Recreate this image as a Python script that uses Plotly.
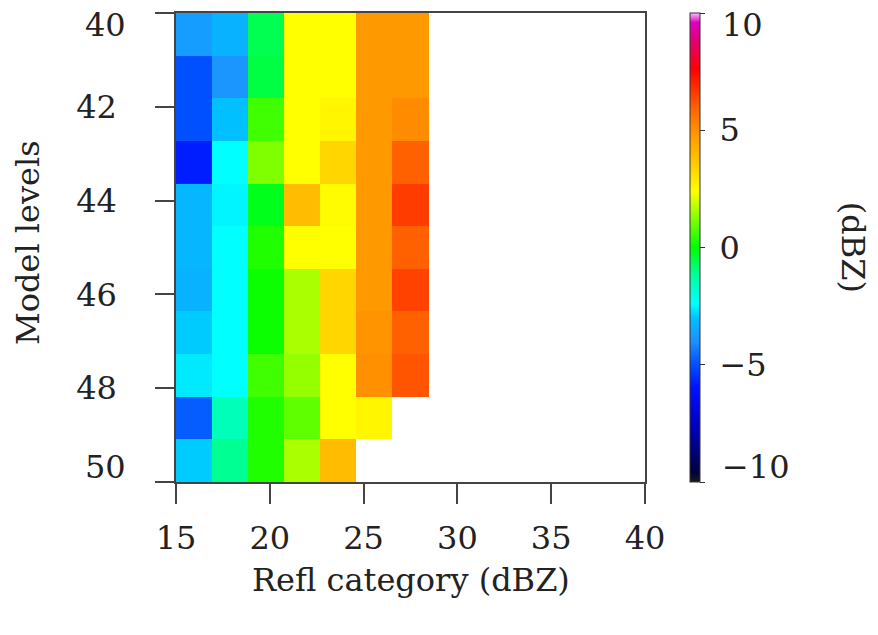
import numpy as np
import plotly.graph_objects as go

# Reflectivity categories (dBZ) and model levels spanned by the grid
refl_range = [15, 40]
level_range = [40, 50]
n_refl_bins = 13
n_levels = 11

# Mean reflectivity difference (dBZ) per model level (rows, top = level 40)
# and reflectivity category (columns, lowest category first)
row_40 = [-3.7, -3.3, -0.6, 2.4, 2.4, 4.8, 4.8]
row_41 = [-5.0, -3.9, -0.5, 2.4, 2.4, 4.8, 4.8]
row_42 = [-5.0, -3.0, 0.6, 2.4, 2.6, 4.8, 5.1]
row_43 = [-5.8, -2.4, 1.2, 2.4, 3.3, 4.8, 6.0]
row_44 = [-3.2, -2.5, -0.2, 3.9, 2.5, 4.8, 6.6]
row_45 = [-3.2, -2.4, 0.3, 2.4, 2.4, 4.8, 6.0]
row_46 = [-3.3, -2.4, 0.1, 1.6, 3.3, 4.8, 6.5]
row_47 = [-2.9, -2.4, 0.1, 1.6, 3.3, 4.9, 6.0]
row_48 = [-2.6, -2.4, 0.6, 1.4, 2.4, 5.0, 6.2]
row_49 = [-4.8, -1.5, 0.3, 0.9, 2.4, 2.6, None]
row_50 = [-2.9, -1.1, 0.3, 1.6, 3.9, None, None]

rows = [row_40, row_41, row_42, row_43, row_44, row_45, row_46,
        row_47, row_48, row_49, row_50]

x_ticks = [15, 20, 25, 30, 35, 40]
y_ticks = [40, 42, 44, 46, 48, 50]
cbar_ticks = [-10, -5, 0, 5, 10]
cbar_labels = ["\u221210", "\u22125", "0", "5", "10"]

# Pad the table out to the full grid of categories
z = [r + [None] * (n_refl_bins - len(r)) for r in rows]
x_edges = np.linspace(refl_range[0], refl_range[1], n_refl_bins + 1)
y_edges = np.linspace(level_range[0], level_range[1], n_levels + 1)

rainbow = [
    [0.00, "#1a1a1a"], [0.02, "#000040"], [0.12, "#0000c0"],
    [0.20, "#0010ff"], [0.25, "#0050ff"], [0.30, "#1e90ff"],
    [0.35, "#00c0ff"], [0.38, "#00ffff"], [0.44, "#00ffa0"],
    [0.50, "#00ff00"], [0.56, "#80ff00"], [0.62, "#ffff00"],
    [0.69, "#ffc000"], [0.74, "#ff9900"], [0.80, "#ff6000"],
    [0.88, "#ff0000"], [0.94, "#e00070"], [0.98, "#e000c0"],
    [1.00, "#ffc0ff"],
]

font_family = "DejaVu Serif"
fsize = 32
text_color = "#222222"
label_font = dict(family=font_family, size=fsize, color=text_color)

# End labels of the vertical scales sit just inside the scale ends,
# so they are placed as annotations; inner labels come from the axes.
y_ends = [level_range[0], level_range[1]]
y_ticktext = ["" if v in y_ends else str(v) for v in y_ticks]
c_ends = [cbar_ticks[0], cbar_ticks[-1]]
c_ticktext = ["" if v in c_ends else "\u2005" + t
              for v, t in zip(cbar_ticks, cbar_labels)]

fig = go.Figure(go.Heatmap(
    x=x_edges, y=y_edges, z=z,
    zmin=cbar_ticks[0], zmax=cbar_ticks[-1], colorscale=rainbow,
    hoverongaps=False,
    colorbar=dict(
        x=1.096, xanchor="left", y=0.5, yanchor="middle",
        len=1.0, lenmode="fraction", thickness=10,
        outlinecolor="#333333", outlinewidth=1,
        ticks="outside", ticklen=5, tickcolor="#333333",
        tickvals=cbar_ticks, ticktext=c_ticktext,
        ticklabeloverflow="allow",
        tickfont=label_font,
        xpad=0, ypad=0,
    ),
))

axis_common = dict(
    showgrid=False, zeroline=False, showline=True, mirror=True,
    linecolor="#444444", linewidth=1.5,
    ticks="outside", tickcolor="#444444", tickwidth=1.5,
    ticklabeloverflow="allow", automargin=False,
    tickfont=label_font,
)

annotations = [
    dict(text="Refl category (dBZ)", x=0.5, y=-0.21,
         xref="paper", yref="paper", xanchor="center", yanchor="middle",
         showarrow=False, font=label_font),
    dict(text="Model levels", x=-0.315, y=0.51, textangle=-90,
         xref="paper", yref="paper", xanchor="center", yanchor="middle",
         showarrow=False, font=label_font),
    dict(text="(dBZ)", x=1.445, y=0.50, textangle=90,
         xref="paper", yref="paper", xanchor="center", yanchor="middle",
         showarrow=False, font=label_font),
]

# Level labels at the top and bottom of the y axis
for v, anchor, shift in [(y_ends[0], "top", 9), (y_ends[1], "bottom", -6)]:
    annotations.append(dict(
        text=str(v), x=-0.102, y=v, xref="paper", yref="y",
        xanchor="right", yanchor=anchor, yshift=shift,
        showarrow=False, font=label_font))

# Colour-scale labels at the two ends of the colour bar
for v, t, pos, anchor, shift in [
        (c_ends[0], cbar_labels[0], 0, "bottom", -6),
        (c_ends[1], cbar_labels[-1], 1, "top", 9)]:
    annotations.append(dict(
        text=t, x=1.16, y=pos, xref="paper", yref="paper",
        xanchor="left", yanchor=anchor, yshift=shift,
        showarrow=False, font=label_font))

fig.update_layout(
    width=878, height=635,
    margin=dict(l=176, r=233, t=13, b=153, autoexpand=False),
    paper_bgcolor="white", plot_bgcolor="white",
    xaxis=dict(range=refl_range, tickvals=x_ticks, ticklen=20,
               ticklabelstandoff=7, **axis_common),
    yaxis=dict(range=level_range[::-1], tickvals=y_ticks,
               ticktext=y_ticktext, ticklen=19,
               ticklabelstandoff=32, **axis_common),
    annotations=annotations,
)

fig.write_html("out.html")
